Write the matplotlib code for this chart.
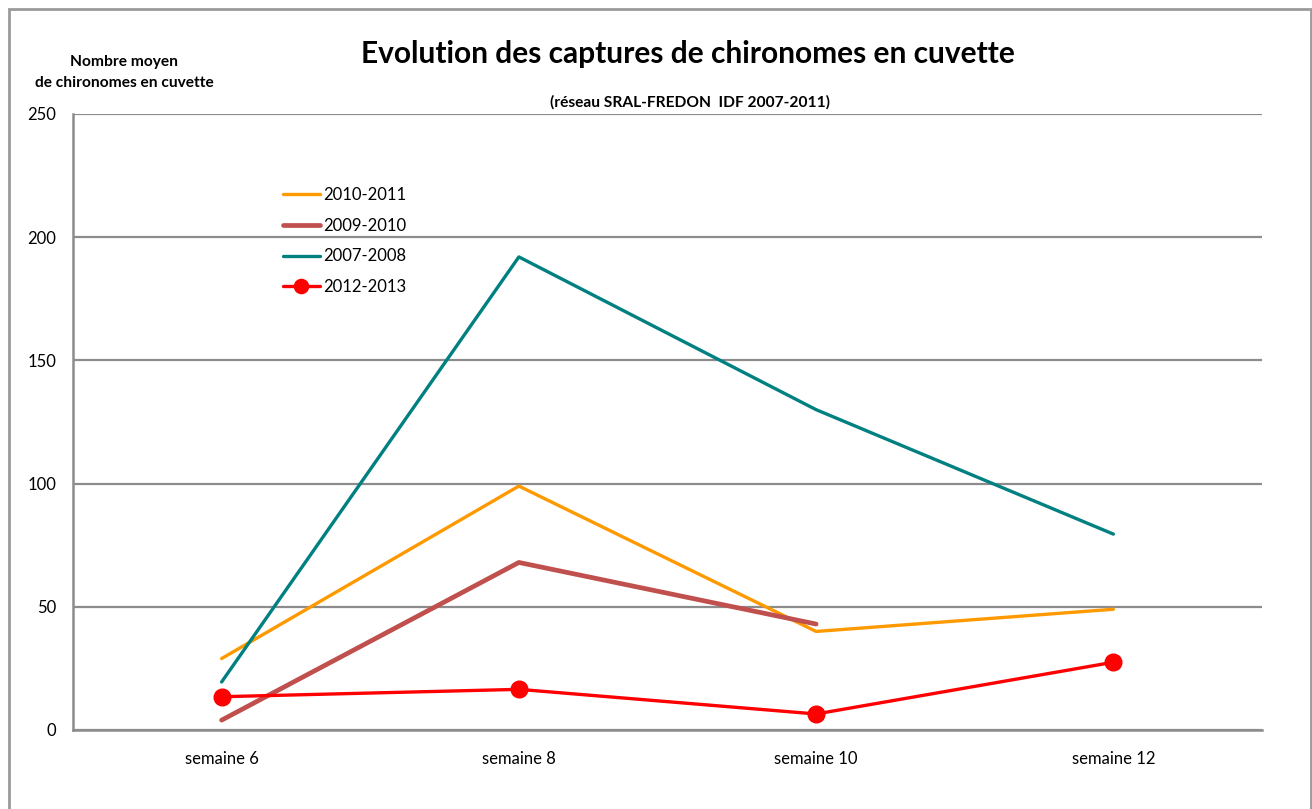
import matplotlib
matplotlib.use("Agg")
import matplotlib.pyplot as plt
from matplotlib.patches import Rectangle

plt.rcParams['font.family'] = ['Lato', 'DejaVu Sans']

categories = ["semaine 6", "semaine 8", "semaine 10", "semaine 12"]
s_2010_2011 = [29, 99, 40, 49]
s_2009_2010 = [4, 68, 43]
s_2007_2008 = [19.5, 192, 130, 79.5]
s_2012_2013 = [13.5, 16.5, 6.5, 27.5]
yticks = [0, 50, 100, 150, 200, 250]

fig = plt.figure(figsize=(13.12, 8.09), dpi=100)
fig.patches.append(Rectangle((9/1312, -0.05), (1311-9)/1312, 1 - 9/809 + 0.05,
                             transform=fig.transFigure, fill=False,
                             edgecolor='#9a9a9a', linewidth=2))
ax = fig.add_axes([73/1312, 1 - 730/809, (1262-73)/1312, (730-114)/809])

x = [i + 0.5 for i in range(len(categories))]
ax.plot(x[:len(s_2010_2011)], s_2010_2011, color='#FF9900', lw=2.4, label='2010-2011', solid_capstyle='round')
ax.plot(x[:len(s_2009_2010)], s_2009_2010, color='#C0504D', lw=3.4, label='2009-2010', solid_capstyle='round')
ax.plot(x[:len(s_2007_2008)], s_2007_2008, color='#008080', lw=2.4, label='2007-2008', solid_capstyle='round')
ax.plot(x[:len(s_2012_2013)], s_2012_2013, color='#FF0000', lw=2.4, marker='o', ms=12,
        label='2012-2013', solid_capstyle='round')

ax.set_xlim(0, 4)
ax.set_ylim(0, 250)
ax.set_yticks(yticks)
ax.set_yticklabels([str(v) for v in yticks], fontsize=12)
ax.set_xticks(x)
ax.set_xticklabels(categories, fontsize=12)
ax.tick_params(length=0)
ax.tick_params(axis='x', pad=15)
ax.tick_params(axis='y', pad=12)
ax.grid(axis='y', color='#8c8c8c', lw=1.6)
ax.set_axisbelow(True)
for s in ['top', 'right']:
    ax.spines[s].set_visible(False)
for s in ['left', 'bottom']:
    ax.spines[s].set_color('#8c8c8c')
    ax.spines[s].set_linewidth(1.8)

leg = ax.legend(loc='upper left', bbox_to_anchor=((283-73)/1189, 1 - (187-114)/616),
                frameon=False, fontsize=12, borderpad=0, borderaxespad=0,
                handlelength=2.2, handletextpad=0.2, labelspacing=0.88, markerscale=0.85)

fig.text(688/1312, 1 - 54/809, "Evolution des captures de chironomes en cuvette",
         ha='center', va='center', fontsize=21.5, fontweight='bold')
fig.text(690/1312, 1 - 102/809, "(réseau SRAL-FREDON  IDF 2007-2011)",
         ha='center', va='center', fontsize=11.2, fontweight='bold')
fig.text(124/1312, 1 - 62/809, "Nombre moyen", ha='center', va='center', fontsize=11.2, fontweight='bold')
fig.text(124/1312, 1 - 83/809, "de chironomes en cuvette", ha='center', va='center', fontsize=11.2, fontweight='bold')

fig.savefig("out.png", dpi=100)
